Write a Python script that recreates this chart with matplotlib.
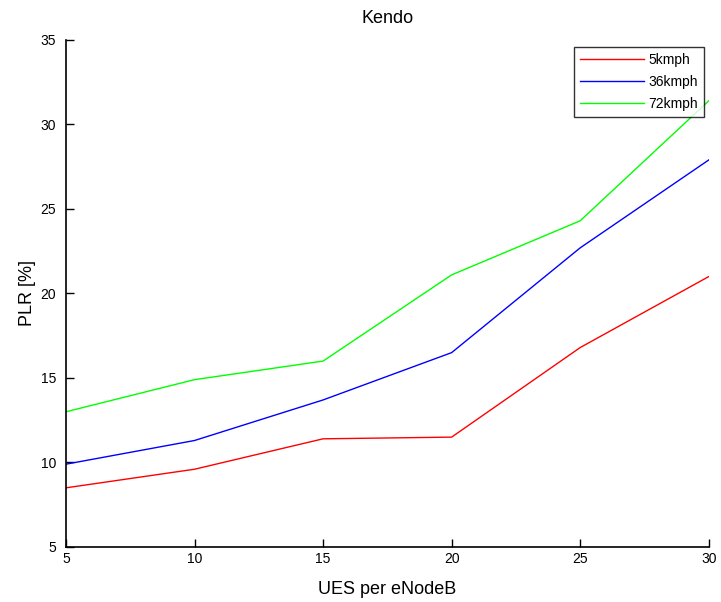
import matplotlib
matplotlib.use("Agg")
import matplotlib.pyplot as plt

ues = [5, 10, 15, 20, 25, 30]
plr_5kmph = [8.5, 9.6, 11.4, 11.5, 16.8, 21.0]
plr_36kmph = [9.9, 11.3, 13.7, 16.5, 22.7, 27.9]
plr_72kmph = [13.0, 14.9, 16.0, 21.1, 24.3, 31.4]
labels = ["5kmph", "36kmph", "72kmph"]
xticks = [5, 10, 15, 20, 25, 30]
yticks = [5, 10, 15, 20, 25, 30, 35]

plt.rcParams['font.family'] = ['Liberation Sans', 'DejaVu Sans']
fig = plt.figure(figsize=(7.21, 6.02), dpi=100)
ax = fig.add_axes([0.0915, 0.0914, 0.983 - 0.0915, 0.9336 - 0.0914])
ax.plot(ues, plr_5kmph, color='#ff0000', lw=1, label=labels[0])
ax.plot(ues, plr_36kmph, color='#0000ff', lw=1, label=labels[1])
ax.plot(ues, plr_72kmph, color='#00ff00', lw=1, label=labels[2])
ax.set_xlim(5, 30)
ax.set_ylim(5, 35)
ax.set_xticks(xticks)
ax.set_yticks(yticks)
ax.spines['top'].set_visible(False)
ax.spines['right'].set_visible(False)
ax.spines['left'].set_linewidth(1.2)
ax.spines['bottom'].set_linewidth(1.2)
ax.tick_params(direction='in', length=6, width=1, labelsize=10)
ax.tick_params(axis='y', pad=7)
ax.set_title("Kendo", fontsize=13, pad=12)
ax.set_xlabel("UES per eNodeB", fontsize=13, labelpad=11)
ax.set_ylabel("PLR [%]", fontsize=13, labelpad=3)
leg = ax.legend(loc='upper right', bbox_to_anchor=(0.993, 0.986), fancybox=False,
                edgecolor='black', fontsize=10, handlelength=4.6, borderpad=0.45,
                labelspacing=0.55, handletextpad=0.3, borderaxespad=0)
leg.get_frame().set_linewidth(1.0)
fig.savefig("out.png", dpi=100)
